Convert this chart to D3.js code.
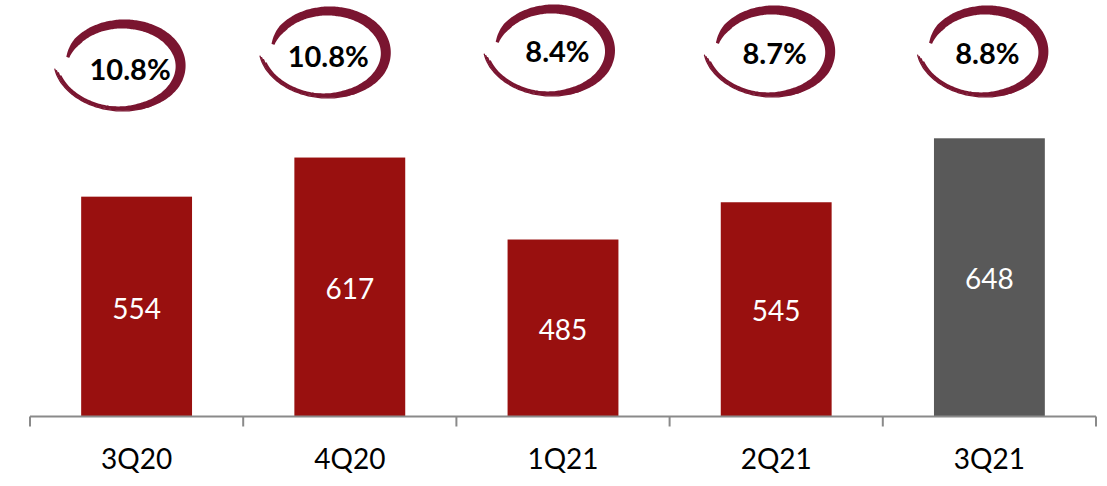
<!DOCTYPE html>
<html>
<head>
<meta charset="utf-8">
<script src="https://cdn.jsdelivr.net/npm/d3@7"></script>
<style>
  html, body { margin: 0; padding: 0; background: #fff; }
  svg { display: block; }
  text { font-family: Lato, "Open Sans", sans-serif; }
</style>
</head>
<body>
<svg id="chart" width="1107" height="486"></svg>
<script>
// Quarterly values
const categories = ["3Q20", "4Q20", "1Q21", "2Q21", "3Q21"];
const values = [554, 617, 485, 545, 648];
// Share shown in the circled callouts
const shares = [10.8, 10.8, 8.4, 8.7, 8.8];

// Callout layout (offsets from each band centre, in px)
const labelDx = [-6.5, -21.5, -5.5, -1.5, -2];
const labelY = [70, 57, 52, 54, 54];
const ringDx = [-13, -21, -10, -3, -3];
const ringY = [66, 53, 51, 52, 52];

const axisY = 416.5;
const svg = d3.select("#chart");

const x = d3.scaleBand()
  .domain(categories)
  .range([30, 1096])
  .paddingInner(0.48)
  .paddingOuter(0.24);
const step = x.step();
const left = 30;
const center = c => x(c) + x.bandwidth() / 2;

const y = d3.scaleLinear().domain([200, 700]).range([axisY, 106]);

const barColor = (d, i) => i === categories.length - 1 ? "#595959" : "#99100F";

// Bars
svg.append("g").selectAll("rect")
  .data(values)
  .join("rect")
  .attr("x", (d, i) => x(categories[i]))
  .attr("width", x.bandwidth())
  .attr("y", d => y(d))
  .attr("height", d => y(y.domain()[0]) - y(d))
  .attr("fill", barColor);

// Value labels inside bars
svg.append("g").selectAll("text")
  .data(values)
  .join("text")
  .attr("x", (d, i) => center(categories[i]))
  .attr("y", d => (y(d) + axisY) / 2 + 2)
  .attr("dy", "0.36em")
  .attr("text-anchor", "middle")
  .attr("fill", "#fff")
  .attr("font-size", 28)
  .text(d => d);

// Category axis: baseline with ticks at band boundaries
const boundaries = d3.range(categories.length + 1).map(i => left + i * step);
const axisG = svg.append("g");
axisG.append("line")
  .attr("x1", boundaries[0]).attr("x2", boundaries[boundaries.length - 1])
  .attr("y1", axisY).attr("y2", axisY)
  .attr("stroke", "#8a8a8a").attr("stroke-width", 2);
axisG.selectAll("line.tick")
  .data(boundaries)
  .join("line")
  .attr("class", "tick")
  .attr("x1", d => d).attr("x2", d => d)
  .attr("y1", axisY).attr("y2", axisY + 10)
  .attr("stroke", "#8a8a8a").attr("stroke-width", 2);

const labelAxis = d3.axisBottom(x).tickSize(0).tickPadding(0);
const la = svg.append("g")
  .attr("transform", `translate(0,${axisY})`)
  .call(labelAxis);
la.select(".domain").remove();
la.selectAll("text")
  .attr("font-family", "Lato, 'Open Sans', sans-serif")
  .attr("font-size", 28)
  .attr("fill", "#000")
  .attr("y", 42)
  .attr("dy", "0.36em");

// Brush-stroke ring drawn around each callout
const RX = 57, RY = 42;
const rad = a => a * Math.PI / 180;
const widthAt = d3.scaleLinear()
  .domain([192, 215, 270, 330, 385, 430, 468])
  .range([3, 7.5, 9, 10.5, 9.5, 6.5, 1])
  .clamp(true);

function ellipsePt(t, rx, ry) {
  return [rx * Math.cos(rad(t)), ry * Math.sin(rad(t))];
}
function normalAt(t, rx, ry) {
  const nx = Math.cos(rad(t)) / rx, ny = Math.sin(rad(t)) / ry;
  const l = Math.hypot(nx, ny);
  return [nx / l, ny / l];
}
function mainStrokePath() {
  const ts = d3.range(192, 468.01, 2.5);
  const outer = ts.map(t => {
    const p = ellipsePt(t, RX, RY), n = normalAt(t, RX, RY), w = widthAt(t) / 2;
    return [p[0] + n[0] * w, p[1] + n[1] * w];
  });
  const inner = ts.map(t => {
    const p = ellipsePt(t, RX, RY), n = normalAt(t, RX, RY), w = widthAt(t) / 2;
    return [p[0] - n[0] * w, p[1] - n[1] * w];
  }).reverse();
  return d3.line().curve(d3.curveCatmullRomClosed)(outer.concat(inner));
}
// Thin bristle lines trailing off the bottom-left of the ring
const strands = [
  { k: 0.99, t0: 400, t1: 528, w: 1.8 },
  { k: 1.015, t0: 408, t1: 531, w: 1.6 },
  { k: 1.04, t0: 414, t1: 534, w: 1.5 },
  { k: 1.065, t0: 422, t1: 537, w: 1.3 }
];
function strandPath(s) {
  const pts = d3.range(s.t0, s.t1 + 0.01, 3).map(t => {
    const f = (t - s.t0) / (s.t1 - s.t0);
    const p = ellipsePt(t, RX * (s.k + 0.04 * f), RY * (s.k + 0.02 * f));
    return [p[0] - 6 * f * f, p[1]];
  });
  return d3.line().curve(d3.curveBasis)(pts);
}

const ringColor = "#7A1530";
const mainD = mainStrokePath();
const callouts = svg.append("g").selectAll("g")
  .data(shares)
  .join("g");

callouts.append("g")
  .attr("transform", (d, i) => `translate(${center(categories[i]) + ringDx[i]},${ringY[i]})`)
  .each(function () {
    const g = d3.select(this);
    g.append("path").attr("d", mainD).attr("fill", ringColor);
    g.selectAll("path.strand")
      .data(strands)
      .join("path")
      .attr("class", "strand")
      .attr("d", strandPath)
      .attr("fill", "none")
      .attr("stroke", ringColor)
      .attr("stroke-width", s => s.w)
      .attr("stroke-linecap", "round");
  });

callouts.append("text")
  .attr("x", (d, i) => center(categories[i]) + labelDx[i])
  .attr("y", (d, i) => labelY[i])
  .attr("dy", "0.36em")
  .attr("text-anchor", "middle")
  .attr("font-weight", "bold")
  .attr("font-size", 29)
  .attr("fill", "#000")
  .text(d => d.toFixed(1) + "%");
</script>
</body>
</html>
